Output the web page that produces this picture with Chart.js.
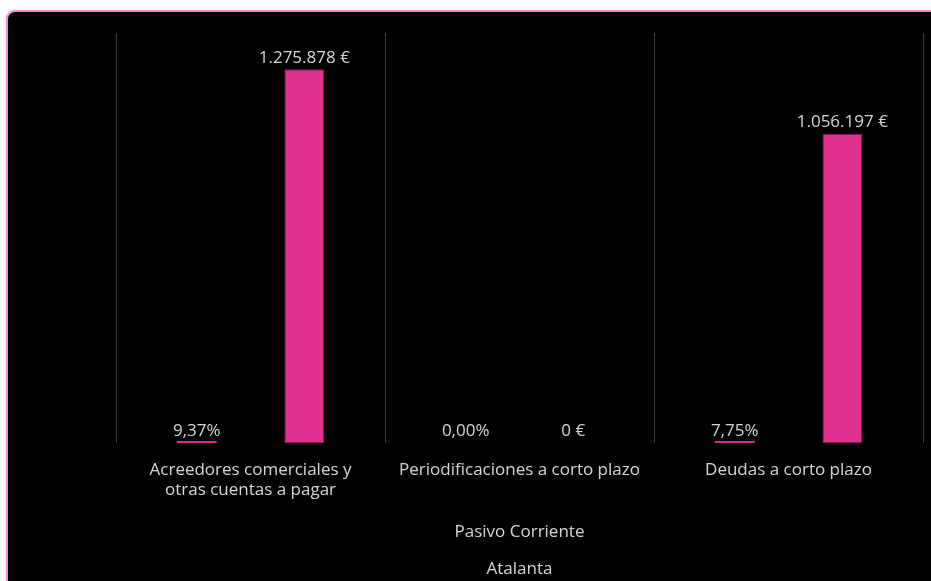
<!DOCTYPE html>
<html>
<head>
<meta charset="utf-8">
<script src="https://cdn.jsdelivr.net/npm/chart.js@4/dist/chart.umd.min.js"></script>
<style>
  html, body { margin: 0; padding: 0; background: #fff; overflow: hidden; }
  #panel {
    position: absolute; left: 6px; top: 10px; width: 940px; height: 590px;
    background: #000; border: 2px solid #f48cc6; border-radius: 9px;
    box-shadow: 0 0 3px #fbc3e2;
  }
  #wrap { position: absolute; left: 0; top: 0; width: 931px; height: 588px; }
</style>
</head>
<body>
<div id="panel"></div>
<div id="wrap"><canvas id="chart" width="931" height="588"></canvas></div>
<script>
// categories and values
const categories = [
  ['Acreedores comerciales y', 'otras cuentas a pagar'],
  'Periodificaciones a corto plazo',
  'Deudas a corto plazo'
];
const sharePct = [0.0937, 0, 0.0775];           // % of total, tiny on the euro axis
const amountEur = [1275878, 0, 1056197];
const groupTitle = ['Pasivo Corriente', 'Atalanta'];

const FONT = "'Open Sans', 'Noto Sans', sans-serif";
const TXT = '#d6d6d6';

function fmtEur(v) {
  return String(Math.round(v)).replace(/\B(?=(\d{3})+(?!\d))/g, '.') + ' €';
}
function fmtPct(v) {
  return (v * 100).toFixed(2).replace('.', ',') + '%';
}

const valueLabels = {
  id: 'valueLabels',
  afterDatasetsDraw(chart) {
    const ctx = chart.ctx;
    ctx.save();
    ctx.font = '17px ' + FONT;
    ctx.fillStyle = TXT;
    ctx.textAlign = 'center';
    ctx.textBaseline = 'bottom';
    chart.data.datasets.forEach((ds, i) => {
      const meta = chart.getDatasetMeta(i);
      meta.data.forEach((el, j) => {
        const v = ds.data[j];
        const txt = i === 0 ? fmtPct(v) : fmtEur(v);
        const y = i === 0 ? chart.chartArea.bottom - 3 : Math.min(el.y, chart.chartArea.bottom) - 3;
        ctx.fillText(txt, el.x, y);
      });
    });
    ctx.restore();
  }
};

new Chart(document.getElementById('chart').getContext('2d'), {
  type: 'bar',
  data: {
    labels: categories,
    datasets: [{
      label: '%',
      data: sharePct,
      backgroundColor: c => (c.raw > 0 ? '#d82a88' : 'rgba(0,0,0,0)'),
      borderWidth: 0,
      minBarLength: 2,
      categoryPercentage: 0.8,
      barPercentage: 0.37
    }, {
      label: '€',
      data: amountEur,
      backgroundColor: '#e0308e',
      borderColor: '#8a1455',
      borderWidth: 1,
      borderSkipped: false,
      categoryPercentage: 0.8,
      barPercentage: 0.37
    }]
  },
  options: {
    responsive: false,
    animation: false,
    layout: { padding: { left: 116, right: 8, top: 33, bottom: 0 } },
    plugins: {
      legend: { display: false },
      tooltip: { enabled: false }
    },
    scales: {
      x: {
        afterFit: s => { s.height = 145; },
        border: { display: false },
        grid: { color: '#3a3a3a', lineWidth: 1, drawTicks: false, offset: true },
        ticks: { color: TXT, font: { family: FONT, size: 17, lineHeight: 1.18 }, padding: 17, maxRotation: 0, autoSkip: false },
        title: {
          display: true,
          text: groupTitle,
          color: TXT,
          font: { family: FONT, size: 17, lineHeight: 2.18 },
          padding: { top: 6, bottom: 0 }
        }
      },
      y: {
        display: false,
        min: 0,
        max: 1400000
      }
    }
  },
  plugins: [valueLabels]
});
</script>
</body>
</html>
